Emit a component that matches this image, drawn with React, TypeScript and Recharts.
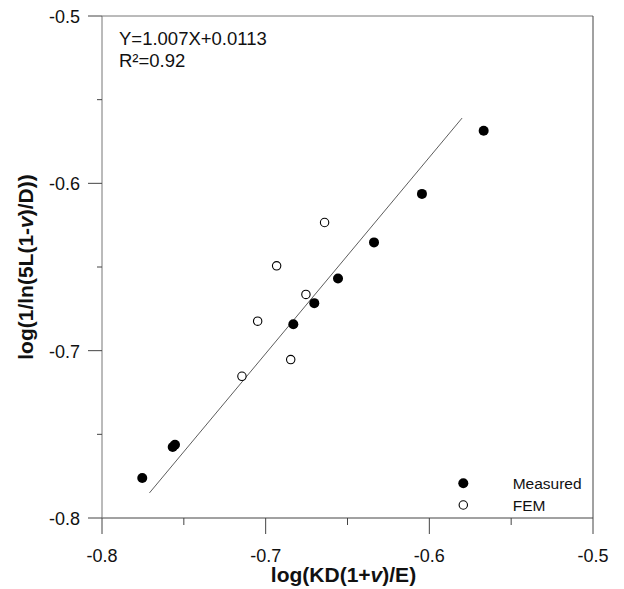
import React from 'react'
import { ScatterChart, Scatter, XAxis, YAxis, ReferenceLine, Legend } from 'recharts'

// values
const measuredX = [-0.7754, -0.7568, -0.7554, -0.6831, -0.6703, -0.6558, -0.6338, -0.6045, -0.5668]
const measuredY = [-0.7761, -0.7576, -0.7562, -0.6842, -0.6716, -0.6569, -0.6353, -0.6063, -0.5686]
const femX = [-0.7145, -0.7049, -0.6933, -0.6847, -0.6754, -0.664]
const femY = [-0.7153, -0.6824, -0.6493, -0.7053, -0.6664, -0.6234]
const fitX = [-0.771, -0.58]
const fitY = [-0.785, -0.561]
const axisTicks = [-0.8, -0.75, -0.7, -0.65, -0.6, -0.55, -0.5]
const equationText = 'Y=1.007X+0.0113'
const r2Text = 'R\u00b2=0.92'

const measured = measuredX.map((x, i) => ({ x, y: measuredY[i] }))
const fem = femX.map((x, i) => ({ x, y: femY[i] }))
const fitSegment = fitX.map((x, i) => ({ x, y: fitY[i] }))

const FONT = '"Liberation Sans", Arial, sans-serif'
const isMajor = (v: number) => Math.abs(v * 10 - Math.round(v * 10)) < 1e-6

const XTick = (props: any) => {
  const { x, y, payload } = props
  const major = isMajor(payload.value)
  return (
    <g>
      <line x1={x} x2={x} y1={y} y2={y + (major ? 16 : 7)} stroke="#444" />
      {major && (
        <text x={x} y={y + 44} textAnchor="middle" fontSize={18} fill="#111" fontFamily={FONT}>
          {payload.value.toFixed(1)}
        </text>
      )}
    </g>
  )
}

const YTick = (props: any) => {
  const { x, y, payload } = props
  const major = isMajor(payload.value)
  return (
    <g>
      <line x1={x - (major ? 14 : 5)} x2={x} y1={y} y2={y} stroke="#444" />
      {major && (
        <text x={x - 22} y={y + 7} textAnchor="end" fontSize={18} fill="#111" fontFamily={FONT}>
          {payload.value.toFixed(1)}
        </text>
      )}
    </g>
  )
}

const XLabel = (props: any) => {
  const { viewBox } = props
  const cx = viewBox.x + viewBox.width / 2
  return (
    <text x={cx - 4} y={582} textAnchor="middle" fontSize={21} fontWeight="bold" fill="#111" fontFamily={FONT}>
      log(KD(1+<tspan fontStyle="italic">v</tspan>)/E)
    </text>
  )
}

const YLabel = (props: any) => {
  const { viewBox } = props
  const cy = viewBox.y + viewBox.height / 2
  return (
    <text x={33} y={cy} transform={`rotate(-90 33 ${cy})`} textAnchor="middle" fontSize={21} fontWeight="bold" fill="#111" fontFamily={FONT}>
      log(1/ln(5L(1-<tspan fontStyle="italic">v</tspan>)/D))
    </text>
  )
}

const FilledDot = (props: any) => <circle cx={props.cx} cy={props.cy} r={5} fill="#000" />
const OpenDot = (props: any) => <circle cx={props.cx} cy={props.cy} r={4.2} fill="#fff" stroke="#000" strokeWidth={1.1} />

const LegendBox = () => (
  <svg width={140} height={50} style={{ display: 'block' }}>
    <circle cx={13.3} cy={13.3} r={5} fill="#000" />
    <text x={62.7} y={18.5} fontSize={15.5} fill="#111" fontFamily={FONT}>Measured</text>
    <circle cx={13.3} cy={35} r={4.2} fill="#fff" stroke="#000" strokeWidth={1.1} />
    <text x={62.7} y={40.9} fontSize={15.5} fill="#111" fontFamily={FONT}>FEM</text>
  </svg>
)

export default function App() {
  return (
    <div style={{ position: 'absolute', left: 0, top: 0, width: 624, height: 589, background: '#fff' }}>
      <ScatterChart width={624} height={589} margin={{ top: 16, right: 31, bottom: 21, left: 0 }}>
        <XAxis
          type="number"
          dataKey="x"
          domain={[-0.8, -0.5]}
          ticks={axisTicks}
          allowDataOverflow
          height={50}
          tickSize={0}
          tickMargin={0}
          tickLine={false}
          tick={XTick}
          axisLine={{ stroke: '#444' }}
          label={<XLabel />}
        />
        <YAxis
          type="number"
          dataKey="y"
          domain={[-0.8, -0.5]}
          ticks={axisTicks}
          allowDataOverflow
          width={102}
          tickSize={0}
          tickMargin={0}
          tickLine={false}
          tick={YTick}
          axisLine={{ stroke: '#777' }}
          label={<YLabel />}
        />
        <ReferenceLine y={-0.5} stroke="#777" />
        <ReferenceLine x={-0.5} stroke="#444" />
        <ReferenceLine segment={fitSegment} stroke="#333" strokeWidth={0.8} />
        <Scatter name="Measured" data={measured} shape={FilledDot} isAnimationActive={false} />
        <Scatter name="FEM" data={fem} shape={OpenDot} isAnimationActive={false} />
        <Legend
          layout="vertical"
          align="center"
          verticalAlign="middle"
          wrapperStyle={{ left: 450, top: 470, width: 140 }}
          content={() => <LegendBox />}
        />
        <text x={119} y={45} fontSize={18.5} fill="#111" fontFamily={FONT}>{equationText}</text>
        <text x={119} y={67} fontSize={18.5} fill="#111" fontFamily={FONT}>{r2Text}</text>
      </ScatterChart>
    </div>
  )
}
